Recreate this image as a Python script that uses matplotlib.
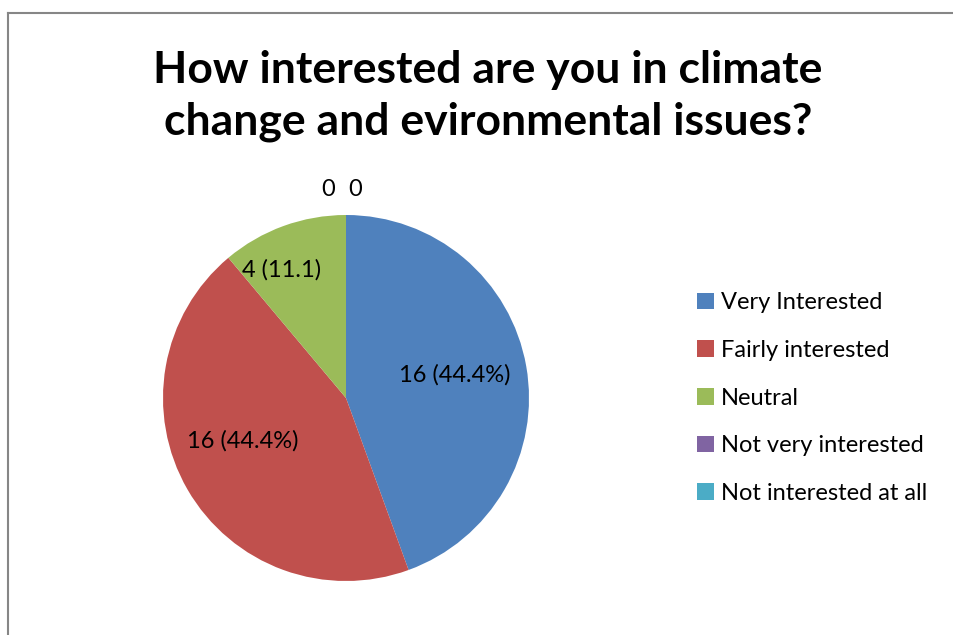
import matplotlib
matplotlib.use("Agg")
import matplotlib.pyplot as plt
from matplotlib.patches import Patch
from matplotlib.lines import Line2D

plt.rcParams['font.family'] = ['Lato', 'DejaVu Sans']

title = "How interested are you in climate\nchange and evironmental issues?"
categories = ["Very Interested", "Fairly interested", "Neutral",
              "Not very interested", "Not interested at all"]
counts = [16, 16, 4, 0, 0]
colors = ["#4F81BD", "#C0504D", "#9BBB59", "#8064A2", "#4BACC6"]

total = sum(counts)
pcts = [100.0 * c / total for c in counts]
labels = [
    f"{counts[0]} ({pcts[0]:.1f}%)",
    f"{counts[1]} ({pcts[1]:.1f}%)",
    f"{counts[2]} ({pcts[2]:.1f})",
    f"{counts[3]}",
    f"{counts[4]}",
]
# label anchor points in pie units (radius = 1)
label_xy = [(0.596, 0.126), (-0.563, -0.235), (-0.35, 0.70),
            (-0.098, 1.142), (0.049, 1.137)]

W, H = 954, 635
fig = plt.figure(figsize=(W / 100, H / 100), dpi=100)

# chart frame: top and left edges (the rest runs off the canvas)
fx, fy = 8 / W, 1 - 13 / H
frame_kw = dict(transform=fig.transFigure, color="#868686", linewidth=1.5)
fig.add_artist(Line2D([fx, 1.05], [fy, fy], **frame_kw))
fig.add_artist(Line2D([fx, fx], [-0.05, fy], **frame_kw))

cx, cy, r = 346, 398, 183
ax = fig.add_axes([(cx - r) / W, (H - cy - r) / H, 2 * r / W, 2 * r / H])
ax.pie(counts, colors=colors, startangle=90, counterclock=False, radius=1,
       wedgeprops=dict(linewidth=0))
ax.set_xlim(-1, 1)
ax.set_ylim(-1, 1)
ax.set_axis_off()

for txt, (x, y) in zip(labels, label_xy):
    ax.text(x, y, txt, ha="center", va="center", fontsize=17, color="black")

fig.text(488 / W, 1 - 96 / H, title, ha="center", va="center",
         fontsize=32, fontweight="bold", linespacing=1.34)

handles = [Patch(facecolor=c, edgecolor="none") for c in colors]
fig.legend(handles, categories, loc="upper left",
           bbox_to_anchor=(676 / W, 1 - 271 / H), frameon=False,
           fontsize=17, handlelength=0.7, handleheight=0.7,
           handletextpad=0.3, labelspacing=1.13)

fig.savefig("out.png", dpi=100)
